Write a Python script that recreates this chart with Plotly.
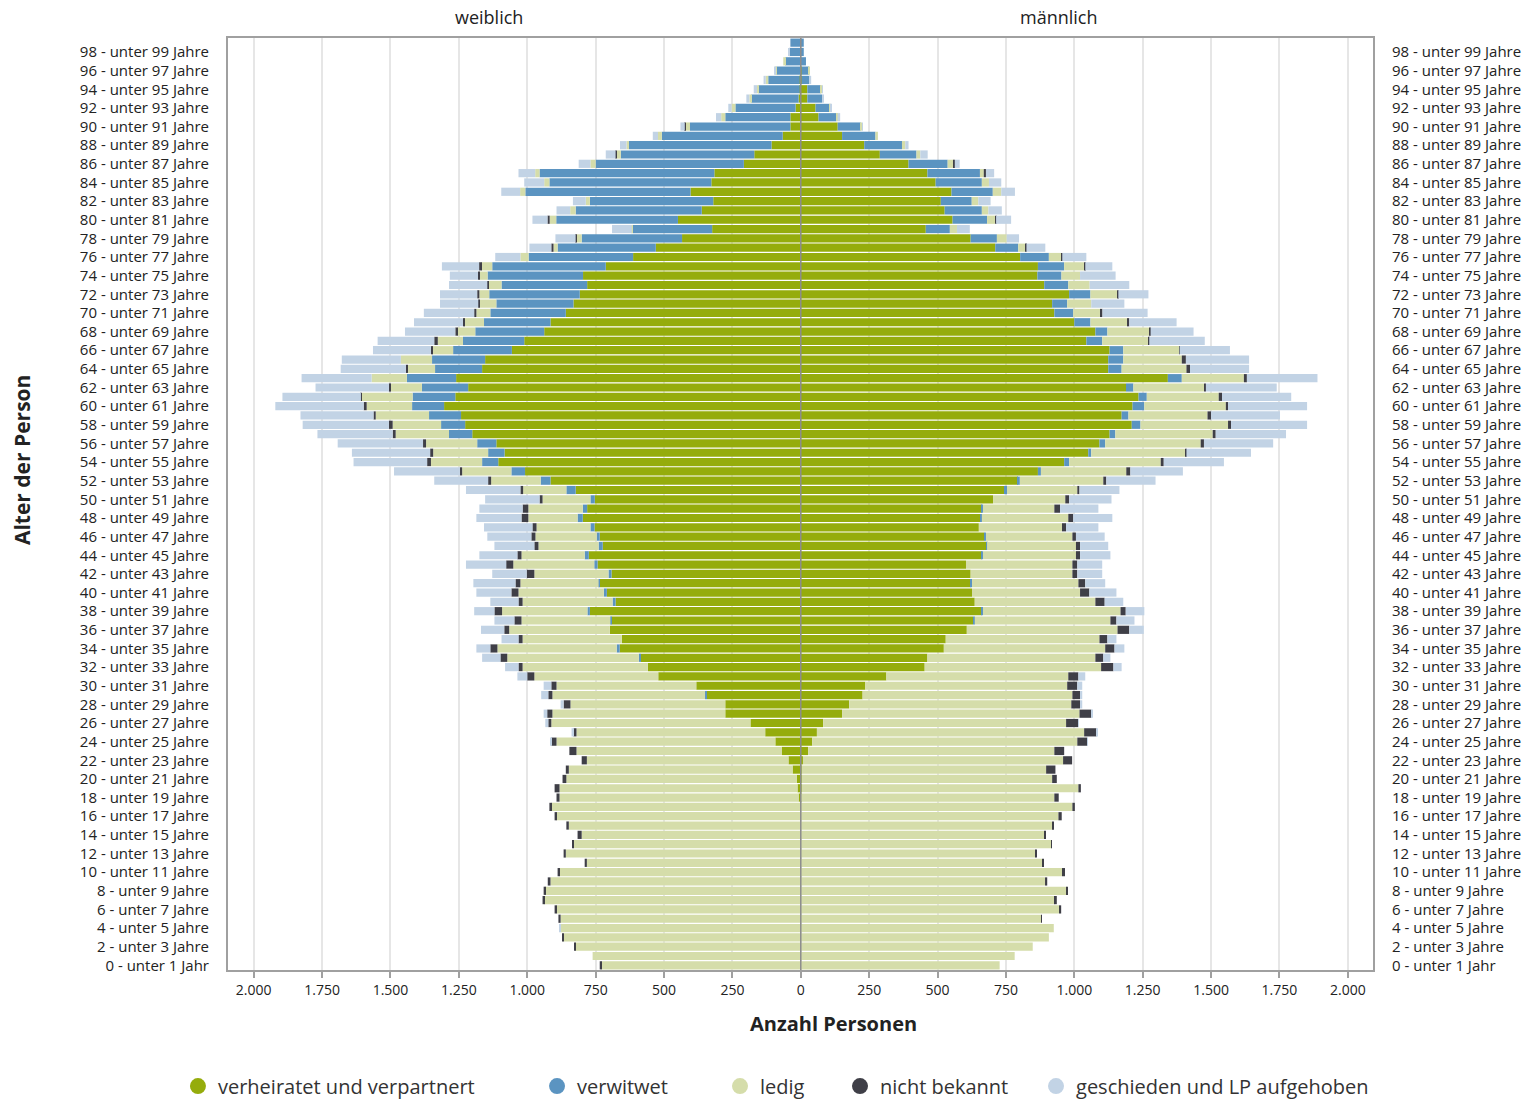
"""Bevölkerungspyramide nach Familienstand — weiblich links, männlich rechts."""

import plotly.graph_objects as go

_FONT = "Open Sans, Noto Sans, DejaVu Sans, sans-serif"
_TEXT_COLOR = "#222222"
_GRID_COLOR = "#e6e6e6"
_FRAME_COLOR = "#a0a0a0"

# ── Daten (Alter 0 … 99, je Familienstand) ──────────────────────────────────

ages = list(range(100))

categories = [
    "verheiratet und verpartnert",
    "verwitwet",
    "ledig",
    "nicht bekannt",
    "geschieden und LP aufgehoben",
]
colors = ["#95ac0c", "#5b94c1", "#d5ddaa", "#3f3f47", "#c2d3e5"]

w_verheiratet = [
    0, 0, 0, 0, 0, 0, 0, 0, 0, 0,
    0, 0, 0, 0, 0, 0, 0, 1, 8, 12,
    15, 30, 45, 70, 93, 130, 184, 276, 276, 343,
    382, 521, 559, 585, 662, 654, 698, 692, 771, 677,
    709, 735, 692, 743, 775, 724, 735, 754, 797, 781,
    753, 823, 915, 1008, 1106, 1083, 1113, 1201, 1227, 1242,
    1304, 1263, 1216, 1260, 1165, 1154, 1056, 1011, 938, 915,
    859, 831, 808, 781, 796, 713, 613, 530, 434, 324,
    449, 362, 320, 403, 327, 316, 208, 170, 107, 66,
    38, 38, 19, 8, 4, 4, 0, 0, 0, 0,
]
w_verwitwet = [
    0, 0, 0, 0, 0, 0, 0, 0, 0, 0,
    0, 0, 0, 0, 0, 0, 0, 0, 0, 0,
    0, 0, 0, 0, 0, 0, 0, 0, 0, 7,
    0, 0, 0, 7, 11, 0, 0, 4, 9, 11,
    11, 4, 11, 12, 15, 15, 11, 15, 19, 16,
    16, 34, 36, 50, 59, 60, 70, 85, 88, 117,
    117, 156, 169, 180, 172, 194, 215, 224, 252, 243,
    276, 282, 331, 313, 349, 415, 382, 359, 367, 290,
    445, 461, 451, 604, 592, 639, 542, 488, 521, 442,
    367, 238, 220, 173, 151, 115, 89, 57, 43, 38,
]
w_ledig = [
    728, 761, 824, 867, 878, 878, 893, 938, 934, 915,
    882, 782, 859, 831, 801, 848, 893, 911, 874, 870,
    842, 818, 737, 750, 800, 690, 728, 632, 566, 558,
    511, 453, 458, 481, 436, 363, 368, 325, 312, 329,
    312, 286, 271, 296, 231, 220, 224, 197, 180, 199,
    175, 158, 181, 180, 187, 201, 187, 195, 177, 195,
    166, 186, 113, 129, 99, 114, 77, 92, 66, 73,
    51, 62, 36, 49, 30, 41, 30, 15, 19, 4,
    24, 20, 15, 19, 19, 16, 19, 15, 9, 14,
    16, 15, 14, 7, 5, 9, 3, 7, 0, 0,
]
w_nicht_bekannt = [
    7, 0, 3, 4, 0, 8, 7, 6, 6, 10,
    7, 8, 8, 2, 15, 9, 7, 7, 11, 18,
    14, 11, 19, 26, 19, 11, 11, 19, 25, 15,
    19, 26, 15, 25, 26, 15, 18, 26, 28, 15,
    26, 18, 28, 26, 15, 15, 15, 15, 25, 21,
    11, 10, 11, 8, 14, 11, 11, 11, 14, 8,
    11, 3, 8, 0, 8, 0, 4, 13, 7, 4,
    8, 4, 8, 3, 5, 7, 0, 8, 3, 0,
    8, 0, 0, 0, 0, 0, 0, 4, 0, 0,
    3, 0, 0, 0, 0, 0, 0, 0, 0, 0,
]
w_geschieden = [
    0, 0, 0, 0, 3, 0, 0, 0, 0, 0,
    0, 0, 0, 0, 0, 0, 0, 0, 0, 0,
    0, 0, 0, 0, 3, 7, 11, 13, 11, 26,
    28, 36, 49, 67, 51, 62, 85, 73, 74, 103,
    128, 154, 126, 147, 139, 146, 161, 177, 165, 158,
    199, 199, 197, 241, 269, 286, 312, 275, 315, 267,
    323, 287, 268, 256, 238, 216, 212, 207, 184, 179,
    184, 140, 136, 140, 103, 136, 92, 80, 74, 72,
    55, 50, 47, 69, 73, 61, 43, 36, 24, 19,
    16, 19, 12, 11, 12, 8, 5, 0, 2, 0,
]

m_verheiratet = [
    0, 0, 0, 0, 0, 0, 0, 0, 0, 0,
    0, 0, 0, 0, 0, 0, 0, 0, 1, 3,
    3, 3, 8, 27, 42, 59, 82, 151, 177, 226,
    236, 313, 453, 463, 523, 530, 607, 630, 662, 636,
    626, 621, 621, 604, 662, 678, 671, 651, 657, 662,
    703, 743, 794, 867, 963, 1051, 1092, 1129, 1210, 1173,
    1213, 1235, 1189, 1342, 1124, 1124, 1129, 1044, 1077, 1000,
    927, 919, 981, 890, 865, 867, 802, 711, 621, 457,
    555, 526, 512, 551, 493, 463, 394, 289, 232, 151,
    135, 65, 54, 24, 24, 3, 3, 0, 0, 0,
]
m_verwitwet = [
    0, 0, 0, 0, 0, 0, 0, 0, 0, 0,
    0, 0, 0, 0, 0, 0, 0, 0, 0, 0,
    0, 0, 0, 0, 0, 0, 0, 0, 0, 0,
    0, 0, 0, 0, 0, 0, 0, 6, 4, 0,
    0, 5, 0, 0, 4, 3, 6, 0, 5, 4,
    0, 11, 7, 11, 18, 11, 21, 21, 32, 25,
    43, 30, 27, 51, 49, 55, 50, 58, 44, 59,
    69, 55, 78, 88, 88, 96, 105, 84, 96, 88,
    126, 136, 113, 151, 169, 192, 143, 134, 138, 122,
    84, 65, 51, 54, 49, 30, 27, 19, 11, 11,
]
m_ledig = [
    727, 782, 848, 907, 925, 879, 944, 929, 973, 893,
    955, 882, 859, 917, 890, 919, 942, 993, 926, 1012,
    916, 894, 951, 900, 969, 977, 888, 868, 812, 767,
    738, 665, 645, 614, 590, 562, 551, 496, 503, 441,
    395, 389, 372, 389, 340, 325, 316, 304, 316, 261,
    264, 257, 305, 312, 335, 346, 349, 356, 320, 289,
    298, 263, 259, 227, 237, 214, 204, 169, 154, 135,
    100, 88, 99, 78, 68, 73, 46, 27, 36, 26,
    30, 24, 24, 31, 26, 14, 23, 14, 12, 9,
    5, 5, 5, 0, 5, 0, 1, 0, 0, 0,
]
m_nicht_bekannt = [
    0, 0, 0, 0, 0, 1, 8, 7, 1, 8,
    11, 7, 1, 1, 6, 6, 12, 9, 16, 9,
    17, 34, 33, 36, 36, 45, 45, 43, 32, 28,
    37, 37, 45, 29, 34, 29, 43, 22, 19, 34,
    34, 25, 18, 18, 15, 15, 13, 15, 18, 21,
    14, 8, 11, 15, 11, 2, 12, 11, 11, 13,
    8, 12, 6, 11, 13, 15, 2, 3, 4, 7,
    7, 0, 3, 0, 0, 4, 3, 3, 0, 0,
    3, 0, 0, 0, 0, 8, 3, 0, 0, 0,
    0, 0, 0, 0, 0, 0, 0, 0, 0, 0,
]
m_geschieden = [
    0, 0, 0, 0, 0, 0, 0, 0, 0, 0,
    0, 0, 0, 0, 0, 0, 0, 0, 0, 0,
    0, 0, 0, 0, 1, 4, 2, 4, 8, 8,
    18, 25, 30, 26, 36, 33, 53, 66, 68, 68,
    99, 73, 91, 91, 111, 103, 105, 118, 143, 140,
    155, 146, 180, 192, 220, 236, 253, 257, 278, 252,
    289, 253, 259, 258, 216, 231, 184, 203, 157, 173,
    165, 121, 110, 145, 130, 99, 88, 69, 45, 47,
    55, 49, 45, 50, 45, 30, 18, 27, 12, 0,
    1, 9, 4, 7, 3, 5, 0, 0, 0, 0,
]

female = [w_verheiratet, w_verwitwet, w_ledig, w_nicht_bekannt, w_geschieden]
male = [m_verheiratet, m_verwitwet, m_ledig, m_nicht_bekannt, m_geschieden]

x_ticks = list(range(-2000, 2001, 250))
x_ticktext = [f"{abs(v):,}".replace(",", ".") for v in x_ticks]

age_ticks = [a for a in ages if a % 2 == 0]
age_ticktext = [
    "0 - unter 1 Jahr" if a == 0 else f"{a} - unter {a + 1} Jahre" for a in age_ticks
]

# ── Figur ────────────────────────────────────────────────────────────────────

fig = go.Figure()

for name, color, w_vals, m_vals in zip(categories, colors, female, male):
    fig.add_trace(
        go.Bar(
            x=[-v for v in w_vals],
            y=ages,
            orientation="h",
            marker=dict(color=color, line_width=0),
            name=name,
            showlegend=False,
            customdata=w_vals,
            hovertemplate=f"weiblich · {name}<br>%{{y}} Jahre: %{{customdata}}<extra></extra>",
        )
    )
    fig.add_trace(
        go.Bar(
            x=m_vals,
            y=ages,
            orientation="h",
            marker=dict(color=color, line_width=0),
            name=name,
            showlegend=False,
            hovertemplate=f"männlich · {name}<br>%{{y}} Jahre: %{{x}}<extra></extra>",
        )
    )

# Legende: eigene Legende je Eintrag, damit die Abstände stimmen
legend_x = [-0.0437, 0.2699, 0.4297, 0.5345, 0.7057]
for i, (name, color) in enumerate(zip(categories, colors)):
    fig.add_trace(
        go.Scatter(
            x=[None],
            y=[None],
            mode="markers",
            marker=dict(color=color, size=16, symbol="circle"),
            name=name,
            legend="legend" if i == 0 else f"legend{i + 1}",
            hoverinfo="skip",
        )
    )

# rechte Altersachse (leere Spur, damit die Achse gezeichnet wird)
fig.add_trace(go.Scatter(x=[None], y=[None], yaxis="y2", showlegend=False, hoverinfo="skip"))

legend_common = dict(
    orientation="h",
    yanchor="middle",
    xanchor="left",
    y=-0.1245,
    bgcolor="rgba(0,0,0,0)",
    font=dict(family=_FONT, size=20, color="#333333"),
    itemclick=False,
    itemdoubleclick=False,
)
legends = {}
for i, lx in enumerate(legend_x):
    key = "legend" if i == 0 else f"legend{i + 1}"
    legends[key] = dict(legend_common, x=lx)

fig.add_shape(
    type="line",
    x0=0,
    x1=0,
    yref="paper",
    y0=0,
    y1=1,
    line=dict(color="#8c8c8c", width=1.5),
    layer="above",
)

axis_y = dict(
    range=[-0.5, 99.5],
    tickmode="array",
    tickvals=age_ticks,
    ticktext=age_ticktext,
    ticks="outside",
    ticklen=14,
    tickcolor="rgba(0,0,0,0)",
    showgrid=False,
    zeroline=False,
    showline=True,
    linecolor=_FRAME_COLOR,
    linewidth=2,
    tickfont=dict(family=_FONT, size=15, color=_TEXT_COLOR),
)


def _label(text, x, y, size, angle=0):
    return dict(
        text=text,
        xref="paper",
        yref="paper",
        x=x,
        y=y,
        xanchor="center",
        yanchor="middle",
        textangle=angle,
        showarrow=False,
        font=dict(family=_FONT, size=size, color=_TEXT_COLOR),
    )


fig.update_layout(
    barmode="relative",
    bargap=0.12,
    width=1526,
    height=1099,
    plot_bgcolor="white",
    paper_bgcolor="white",
    margin=dict(l=228, r=153, t=38, b=129, autoexpand=False),
    font=dict(family=_FONT, color=_TEXT_COLOR),
    xaxis=dict(
        range=[-2094, 2092],
        tickmode="array",
        tickvals=x_ticks,
        ticktext=x_ticktext,
        ticks="outside",
        ticklen=6,
        tickwidth=1.5,
        tickcolor=_FRAME_COLOR,
        showgrid=True,
        gridcolor=_GRID_COLOR,
        gridwidth=1.5,
        zeroline=False,
        showline=True,
        mirror=True,
        linecolor=_FRAME_COLOR,
        linewidth=2,
        tickfont=dict(family=_FONT, size=14, color=_TEXT_COLOR),
        fixedrange=True,
    ),
    yaxis=dict(axis_y, side="left", mirror=True),
    yaxis2=dict(axis_y, side="right", overlaying="y", matches="y"),
    annotations=[
        _label("weiblich", 0.228, 1.0225, 18),
        _label("männlich", 0.7258, 1.0225, 18),
        _label("<b>Anzahl Personen</b>", 0.5284, -0.0569, 20),
        _label("<b>Alter der Person</b>", -0.18, 0.547, 21, angle=-90),
    ],
    **legends,
)

# Seitenrand entfernen, damit die Grafik genau das Fenster füllt
fig.write_html(
    "out.html",
    config={"displayModeBar": False},
    post_script="document.body.style.margin='0';document.body.style.overflow='hidden';",
)
